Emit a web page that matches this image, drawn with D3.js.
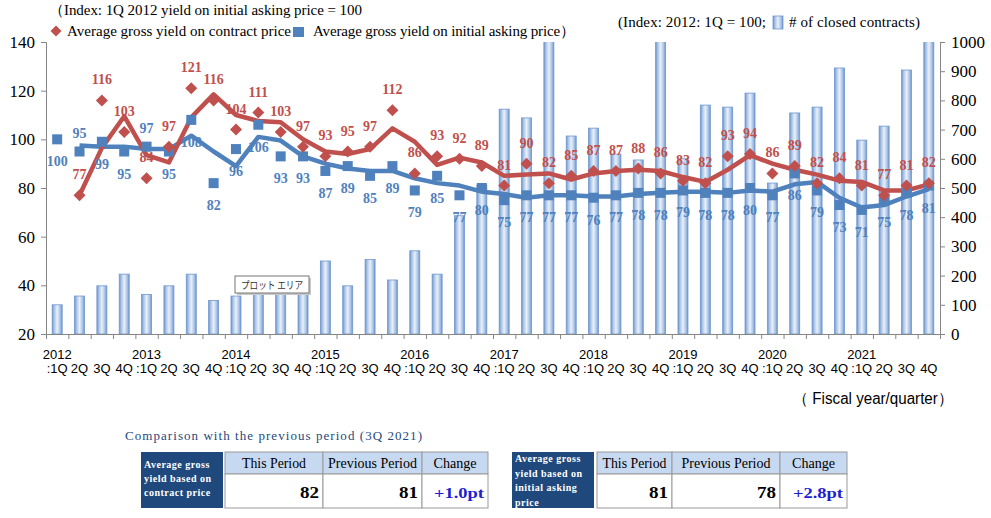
<!DOCTYPE html>
<html><head><meta charset="utf-8">
<script src="https://cdn.jsdelivr.net/npm/d3@7"></script>
<style>body{margin:0;background:#fff}</style>
</head><body><svg id="c" width="991" height="518"></svg>
<script>
// ---- data ----
const years = [2012, 2013, 2014, 2015, 2016, 2017, 2018, 2019, 2020, 2021];
const quarterLabels = [":1Q", "2Q", "3Q", "4Q"];
const categories = years.flatMap(y => quarterLabels.map(q => y + q));
const contractYield = [null, 77, 116, 103, 84, 97, 121, 116, 104, 111, 103, 97, 93, 95, 97, 112, 86, 93, 92, 89,
  81, 90, 82, 85, 87, 87, 88, 86, 83, 82, 93, 94, 86, 89, 82, 84, 81, 77, 81, 82];
const askingYield = [100, 95, 99, 95, 97, 95, 108, 82, 96, 106, 93, 93, 87, 89, 85, 89, 79, 85, 77, 80,
  75, 77, 77, 77, 76, 77, 78, 78, 79, 78, 78, 80, 77, 86, 79, 73, 71, 75, 78, 81];
const closedContracts = [100, 130, 165, 205, 135, 165, 205, 115, 130, 140, 145, 140, 250, 165, 255, 185, 285, 205, 405, 510,
  770, 740, 1050, 678, 705, 616, 596, 1050, 600, 784, 777, 825, 517, 757, 777, 911, 664, 712, 904, 1050];
const leftTicks = [20, 40, 60, 80, 100, 120, 140];
const rightTicks = [0, 100, 200, 300, 400, 500, 600, 700, 800, 900, 1000];
// label placement for the asking-price series ("a" above, "b" below)
const askingLabelPos = askingYield.map((v, i) => (i === 1 || i === 4) ? "a" : "b");
const tableRows = [
  {head: ["Average gross", "yield based on", "contract price"], thisP: "82", prevP: "81", change: "+1.0pt"},
  {head: ["Average gross", "yield based on", "initial asking", "price"], thisP: "81", prevP: "78", change: "+2.8pt"}
];

// ---- layout ----
const svg = d3.select("#c");
const L = 46, R = 940, T = 42, B = 334;
const x = d3.scaleBand().domain(d3.range(categories.length)).range([L, R]).padding(0);
const xc = i => x(i) + x.bandwidth() / 2;
const yL = d3.scaleLinear().domain([20, 140]).range([B, T]);
const yR = d3.scaleLinear().domain([0, 1000]).range([B, T]);
const RED = "#c0504d", BLUE = "#4f81bd", AX = "#868686";
const serif = "'Liberation Serif','Times New Roman',serif";
const sans = "'Liberation Sans',Arial,sans-serif";

const defs = svg.append("defs");
const g = defs.append("linearGradient").attr("id", "barg").attr("x1", "0").attr("x2", "1").attr("y1", "0").attr("y2", "0");
[[0, "#6a93cc"], [0.2, "#a9c3e6"], [0.5, "#e9f0fa"], [0.8, "#a9c3e6"], [1, "#6a93cc"]].forEach(s =>
  g.append("stop").attr("offset", s[0]).attr("stop-color", s[1]));
defs.append("clipPath").attr("id", "plot").append("rect").attr("x", L).attr("y", T).attr("width", R - L).attr("height", B - T);

// bars
svg.append("g").attr("clip-path", "url(#plot)").selectAll("rect").data(closedContracts).join("rect")
  .attr("x", (d, i) => xc(i) - 5).attr("width", 10)
  .attr("y", d => yR(d)).attr("height", d => B - yR(d))
  .attr("fill", "url(#barg)").attr("stroke", "#7098cf").attr("stroke-width", 0.8);

// axes
const axL = svg.append("g").attr("transform", `translate(${L},0)`)
  .call(d3.axisLeft(yL).tickValues(leftTicks).tickSize(5).tickPadding(6));
const axR = svg.append("g").attr("transform", `translate(${R},0)`)
  .call(d3.axisRight(yR).tickValues(rightTicks).tickSize(5).tickPadding(6).tickFormat(d3.format("d")));
[axL, axR].forEach(a => {
  a.select(".domain").attr("stroke", AX);
  a.selectAll(".tick line").attr("stroke", AX);
  a.selectAll("text").attr("font-family", serif).attr("font-size", 17).attr("fill", "#000");
});
const xb = d3.scaleLinear().domain([0, categories.length]).range([L, R]);
const axB = svg.append("g").attr("transform", `translate(0,${B})`)
  .call(d3.axisBottom(xb).tickValues(d3.range(categories.length + 1)).tickSize(5).tickFormat(""));
axB.select(".domain").attr("stroke", AX);
axB.selectAll(".tick line").attr("stroke", AX);

// x labels
categories.forEach((c, i) => {
  const yr = c.slice(0, 4), q = c.slice(4);
  if (i % 4 === 0) svg.append("text").attr("x", xc(i)).attr("y", 359).attr("text-anchor", "middle")
    .attr("font-family", sans).attr("font-size", 13).text(yr);
  svg.append("text").attr("x", xc(i)).attr("y", 373).attr("text-anchor", "middle")
    .attr("font-family", sans).attr("font-size", 13).text(q);
});
svg.append("text").attr("x", 793).attr("y", 404)
  .attr("font-family", sans).attr("font-size", 16).attr("textLength", 160).attr("lengthAdjust", "spacingAndGlyphs")
  .text("（ Fiscal year/quarter）");

// trend lines (2-period moving average, as in the source chart)
function movingAvg(arr) {
  return arr.map((v, i) => {
    if (i === 0) return null;
    const w = [arr[i - 1], arr[i]].filter(d => d != null);
    return w.length ? d3.mean(w) : null;
  });
}
const line = d3.line().defined(d => d != null).x((d, i) => xc(i)).y(d => yL(d));
svg.append("path").datum(movingAvg(askingYield)).attr("d", line).attr("fill", "none")
  .attr("stroke", BLUE).attr("stroke-width", 4.5).attr("stroke-linejoin", "round");
svg.append("path").datum(movingAvg(contractYield)).attr("d", line).attr("fill", "none")
  .attr("stroke", RED).attr("stroke-width", 4.5).attr("stroke-linejoin", "round");

// markers
svg.append("g").selectAll("rect").data(askingYield).join("rect")
  .attr("x", (d, i) => xc(i) - 5).attr("y", d => yL(d) - 5).attr("width", 10).attr("height", 10).attr("fill", BLUE);
svg.append("g").selectAll("path").data(contractYield.map((v, i) => [v, i]).filter(d => d[0] != null)).join("path")
  .attr("d", d3.symbol(d3.symbolSquare, 72)())
  .attr("transform", d => `translate(${xc(d[1])},${yL(d[0])}) rotate(45)`).attr("fill", RED);

// data labels
svg.append("g").selectAll("text").data(askingYield).join("text")
  .attr("x", (d, i) => xc(i)).attr("y", (d, i) => askingLabelPos[i] === "a" ? yL(d) - 14 : yL(d) + 27)
  .attr("text-anchor", "middle").attr("font-family", serif).attr("font-weight", "bold").attr("font-size", 14)
  .attr("fill", BLUE).text(d => d);
svg.append("g").selectAll("text").data(contractYield.map((v, i) => [v, i]).filter(d => d[0] != null)).join("text")
  .attr("x", d => xc(d[1])).attr("y", d => yL(d[0]) - 16)
  .attr("text-anchor", "middle").attr("font-family", serif).attr("font-weight", "bold").attr("font-size", 14)
  .attr("fill", RED).text(d => d[0]);

// legend / notes
svg.append("text").attr("x", 49).attr("y", 15).attr("font-family", serif).attr("font-size", 15)
  .attr("textLength", 313).text("（Index: 1Q 2012 yield on initial asking price = 100");
svg.append("path").attr("d", d3.symbol(d3.symbolSquare, 60)()).attr("transform", "translate(56,31) rotate(45)").attr("fill", RED);
svg.append("text").attr("x", 67).attr("y", 36).attr("font-family", serif).attr("font-size", 15)
  .attr("textLength", 224).text("Average gross yield on contract price");
svg.append("rect").attr("x", 293).attr("y", 27).attr("width", 11).attr("height", 10).attr("fill", BLUE);
svg.append("text").attr("x", 313).attr("y", 36).attr("font-family", serif).attr("font-size", 15)
  .attr("textLength", 262).text("Average gross yield on initial asking price）");
svg.append("text").attr("x", 618).attr("y", 27).attr("font-family", serif).attr("font-size", 15)
  .attr("textLength", 148).text("(Index: 2012: 1Q = 100;");
svg.append("rect").attr("x", 773).attr("y", 16).attr("width", 10).attr("height", 13)
  .attr("fill", "url(#barg)").attr("stroke", "#7098cf").attr("stroke-width", 0.8);
svg.append("text").attr("x", 789).attr("y", 27).attr("font-family", serif).attr("font-size", 15)
  .attr("textLength", 131).text("# of closed contracts)");

// "plot area" tooltip seen in the source screenshot
svg.append("rect").attr("x", 237).attr("y", 278).attr("width", 74).attr("height", 17).attr("fill", "#c8c8c8");
svg.append("rect").attr("x", 235).attr("y", 276).attr("width", 74).attr("height", 17).attr("fill", "#fff").attr("stroke", "#767676");
svg.append("text").attr("x", 241).attr("y", 289).attr("font-family", "'Noto Sans CJK JP',sans-serif").attr("font-size", 10.5)
  .attr("fill", "#333").attr("textLength", 62).attr("lengthAdjust", "spacingAndGlyphs").text("プロット エリア");

// comparison tables
svg.append("text").attr("x", 125).attr("y", 440).attr("font-family", serif).attr("font-size", 13)
  .attr("fill", "#1f497d").attr("textLength", 297).text("Comparison with the previous period (3Q 2021)");
const tables = [
  {x0: 141, hw: 82, tx: 225, cols: [98, 99, 66]},
  {x0: 512, hw: 82, tx: 597, cols: [75, 108, 67]}
];
const headLens = [64, 89, 43];
tableRows.forEach((r, k) => {
  const t = tables[k];
  const gT = svg.append("g");
  gT.append("rect").attr("x", t.x0).attr("y", 452).attr("width", t.hw).attr("height", 56).attr("fill", "#1f497d");
  const lh = r.head.length === 3 ? 14 : 14.5, y0 = r.head.length === 3 ? 468 : 462;
  r.head.forEach((s, j) => gT.append("text").attr("x", t.x0 + 3).attr("y", y0 + j * lh)
    .attr("font-family", serif).attr("font-size", 10).attr("font-weight", "bold").attr("fill", "#fff")
    .attr("letter-spacing", 0.5).text(s));
  let cx = t.tx;
  const heads = ["This Period", "Previous Period", "Change"];
  const vals = [r.thisP, r.prevP, r.change];
  t.cols.forEach((w, j) => {
    gT.append("rect").attr("x", cx).attr("y", 452).attr("width", w).attr("height", 22)
      .attr("fill", "#c6d9f1").attr("stroke", "#9a9a9a");
    gT.append("rect").attr("x", cx).attr("y", 474).attr("width", w).attr("height", 34)
      .attr("fill", "#fff").attr("stroke", "#9a9a9a");
    gT.append("text").attr("x", cx + w / 2).attr("y", 468).attr("text-anchor", "middle")
      .attr("font-family", serif).attr("font-size", 14).attr("textLength", headLens[j])
      .attr("lengthAdjust", "spacingAndGlyphs").text(heads[j]);
    gT.append("text").attr("x", cx + w - 4).attr("y", 498).attr("text-anchor", "end")
      .attr("font-family", serif).attr("font-size", j === 2 ? 15 : 17).attr("font-weight", "bold")
      .attr("textLength", j === 2 ? 50 : 19).attr("lengthAdjust", "spacingAndGlyphs")
      .attr("fill", j === 2 ? "#1f1fd0" : "#000").text(vals[j]);
    cx += w;
  });
});
</script></body></html>
